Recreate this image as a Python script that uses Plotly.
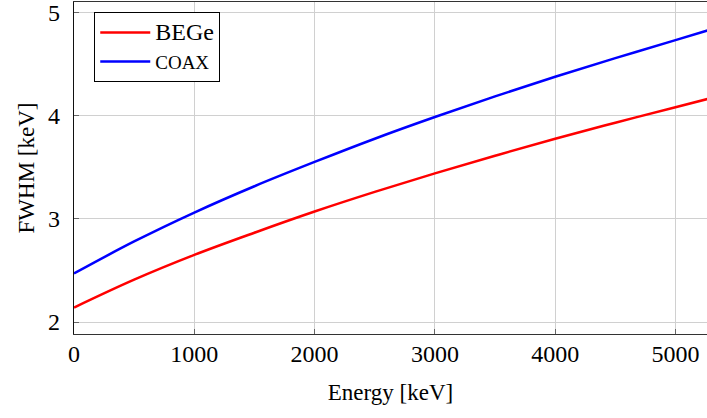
import plotly.graph_objects as go

energy = [0, 500, 1000, 1500, 2000, 2500, 3000, 3500, 4000, 4500, 5000, 5300]
fwhm_bege = [2.14, 2.41, 2.65, 2.865, 3.07, 3.26, 3.44, 3.61, 3.775, 3.93, 4.08, 4.17]
fwhm_coax = [2.47, 2.78, 3.06, 3.315, 3.55, 3.775, 3.985, 4.185, 4.375, 4.555, 4.73, 4.835]
x_ticks = [0, 1000, 2000, 3000, 4000, 5000]
y_ticks = [2, 3, 4, 5]

FONT = "Liberation Serif"

fig = go.Figure()
fig.add_trace(go.Scatter(x=energy, y=fwhm_bege, mode="lines",
                         name="<span style='font-size:24px'>BEGe</span>",
                         line=dict(color="#ff0000", width=2.5, shape="spline")))
fig.add_trace(go.Scatter(x=energy, y=fwhm_coax, mode="lines",
                         name="<span style='font-size:19px'>COAX</span>",
                         line=dict(color="#0000ff", width=2.5, shape="spline")))

fig.update_layout(
    width=707, height=418,
    margin=dict(l=74, r=0, t=2, b=84),
    paper_bgcolor="white", plot_bgcolor="white",
    font=dict(family=FONT, size=23, color="black"),
    showlegend=True,
    legend=dict(x=0.032, y=0.97, xanchor="left", yanchor="top",
                bordercolor="black", borderwidth=1, bgcolor="white",
                font=dict(family=FONT, size=20, color="black"), tracegroupgap=0,
                itemwidth=50),
    xaxis=dict(range=[0, 5262], tickvals=x_ticks, ticktext=[str(v) for v in x_ticks],
               automargin=False, ticklabeloverflow="allow",
               tickfont=dict(family=FONT, size=24, color="black"),
               showgrid=True, gridcolor="#d0d0d0", gridwidth=1,
               showline=True, linecolor="#333333", linewidth=1.3, mirror=True,
               ticks="inside", ticklen=5, tickcolor="#666666",
               zeroline=False, ticklabelstandoff=-2,
               title=dict(text="Energy [keV]", font=dict(family=FONT, size=23, color="black"), standoff=17)),
    yaxis=dict(range=[1.884, 5.099], tickvals=y_ticks, ticktext=[str(v) for v in y_ticks],
               automargin=False, ticklabeloverflow="allow",
               tickfont=dict(family=FONT, size=24, color="black"),
               showgrid=True, gridcolor="#d0d0d0", gridwidth=1,
               showline=True, linecolor="#111111", linewidth=1.3,
               ticks="inside", ticklen=5, tickcolor="#666666",
               zeroline=False, ticklabelstandoff=8,
               title=dict(text="FWHM [keV]", font=dict(family=FONT, size=23, color="black"), standoff=6)),
)

fig.write_html("out.html", config={"displayModeBar": False},
               post_script="document.body.style.margin='0';document.body.style.overflow='hidden';")
